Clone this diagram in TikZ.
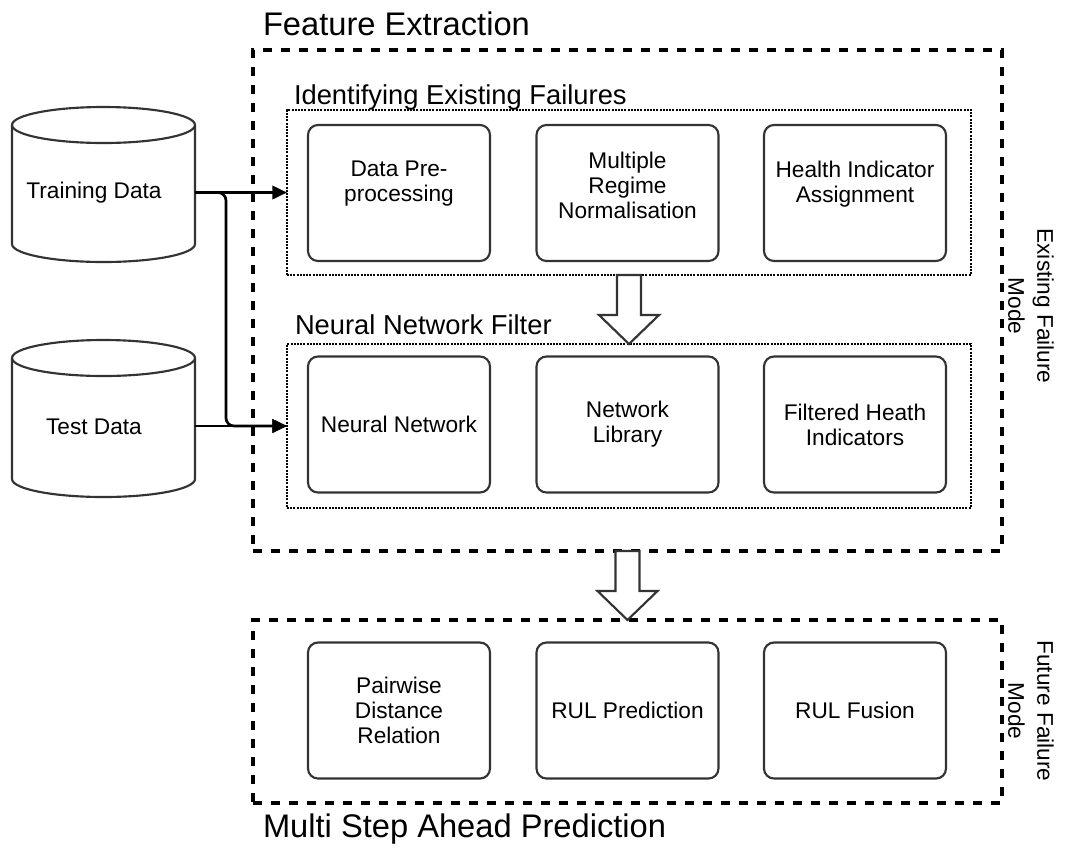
\documentclass[tikz,border=0pt]{standalone}
\usepackage{fontspec}
\setmainfont{Liberation Sans}
\usetikzlibrary{arrows.meta,calc}
\definecolor{edge}{RGB}{51,51,51}

\begin{document}
\begin{tikzpicture}[x=0.75pt,y=-0.75pt,
  every node/.style={inner sep=0pt,outer sep=0pt},
  procbox/.style={draw=edge,line width=1.6pt,rounded corners=7.5pt,
    minimum width=182*0.75pt,minimum height=136*0.75pt,align=center,
    font=\fontsize{17}{18.75}\selectfont},
  boxtext/.style={align=center,font=\fontsize{17}{18.75}\selectfont},
  stagebox/.style={draw=black,line width=2.4pt,dash pattern=on 7pt off 6.5pt},
  groupbox/.style={draw=black,line width=2pt,dash pattern=on 1.5pt off 0.9pt},
  stagetitle/.style={anchor=base west,font=\fontsize{24.5}{28}\selectfont},
  grouptitle/.style={anchor=base west,font=\fontsize{20.5}{24}\selectfont},
  modelabel/.style={rotate=-90,align=center,font=\fontsize{17}{21.75}\selectfont},
  cyl/.style={draw=edge,line width=1.6pt},
  conn/.style={draw=black,line width=2pt,-{Triangle[length=11pt,width=10pt]}},
  blockarrow/.style={draw=edge,fill=white,line width=1.6pt,line join=miter}
]
\useasboundingbox (0,0) rectangle (1067,847);

% stage frames
\node[stagebox,minimum width=749*0.75pt,minimum height=501*0.75pt] (fe) at (627.5,300.5) {};
\node[stagebox,minimum width=749*0.75pt,minimum height=183*0.75pt] (msp) at (627.5,711.5) {};

% group frames inside feature extraction
\node[groupbox,minimum width=684*0.75pt,minimum height=165*0.75pt] (ief) at (629,192.5) {};
\node[groupbox,minimum width=684*0.75pt,minimum height=164*0.75pt] (nnf) at (629,426) {};

% titles
\node[stagetitle] (fetitle) at (263,35) {Feature Extraction};
\node[stagetitle] (msptitle) at (263,837) {Multi Step Ahead Prediction};
\node[grouptitle] (ieftitle) at (294,104) {Identifying Existing Failures};
\node[grouptitle] (nnftitle) at (295,334) {Neural Network Filter};

% side labels
\node[modelabel] (efm) at (1031,306) {Existing Failure\\Mode};
\node[modelabel] (ffm) at (1031,711) {Future Failure\\Mode};

% identifying existing failures
\node[procbox] (dpp) at (399,193) {};
\node[procbox] (mrn) at (627.5,193) {};
\node[procbox] (hia) at (855,193) {};
\node[boxtext] (dpptext) at ($(dpp.center)+(0,-9)$) {Data Pre-\\processing};
\node[boxtext] (mrntext) at ($(mrn.center)+(0,-8)$) {Multiple\\Regime\\Normalisation};
\node[boxtext] (hiatext) at ($(hia.center)+(0,-9)$) {Health Indicator\\Assignment};

% neural network filter
\node[procbox] (nn) at (399,424.5) {Neural Network};
\node[procbox] (nl) at (627.5,424.5) {Network\\Library};
\node[procbox] (fhi) at (855,424.5) {Filtered Heath\\Indicators};

% multi step ahead prediction
\node[procbox] (pdr) at (399,710.5) {Pairwise\\Distance\\Relation};
\node[procbox] (rulp) at (627.5,710.5) {RUL Prediction};
\node[procbox] (rulf) at (855,710.5) {RUL Fusion};

% data stores
\node[minimum width=183*0.75pt,minimum height=155*0.75pt] (train) at (103.5,184.5) {};
\node[minimum width=183*0.75pt,minimum height=157*0.75pt] (test) at (103.5,418.5) {};
\foreach \db in {train,test}{
  \draw[cyl] ($(\db.north west)+(0,18)$) -- ($(\db.south west)+(0,-18)$)
    arc[start angle=180,end angle=360,x radius=68.625pt,y radius=13.5pt]
    -- ($(\db.north east)+(0,18)$)
    arc[start angle=0,end angle=180,x radius=68.625pt,y radius=13.5pt] -- cycle;
  \draw[cyl] ($(\db.north west)+(0,18)$)
    arc[start angle=180,end angle=360,x radius=68.625pt,y radius=13.5pt];
}
\node[boxtext] (trainlbl) at (94,193) {Training Data};
\node[boxtext] (testlbl) at (94,427) {Test Data};

% data flow
\draw[conn,rounded corners=6pt] (train.east |- ief.west) -- ++(31,0) |- (nnf.west);
\draw[conn] (train.east |- ief.west) -- (ief.west);
\draw[conn] (test.east |- nnf.west) -- (nnf.west);

% block arrows between stages
\draw[blockarrow] ($(ief.south)+(-12,0)$) -- ($(ief.south)+(12,0)$)
  -- ($(ief.south)+(12,40)$) -- ($(ief.south)+(30,40)$) -- (nnf.north)
  -- ($(ief.south)+(-30,40)$) -- ($(ief.south)+(-12,40)$) -- cycle;
\draw[blockarrow] ($(fe.south)+(-12,0)$) -- ($(fe.south)+(12,0)$)
  -- ($(fe.south)+(12,40)$) -- ($(fe.south)+(30,40)$) -- (msp.north)
  -- ($(fe.south)+(-30,40)$) -- ($(fe.south)+(-12,40)$) -- cycle;
\end{tikzpicture}
\end{document}
